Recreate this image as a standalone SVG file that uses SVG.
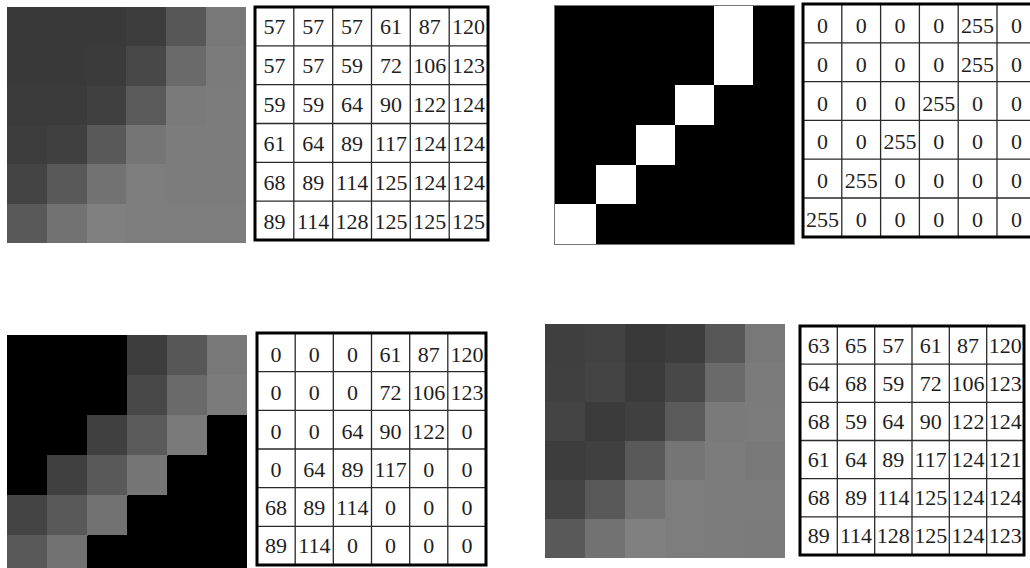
<svg xmlns="http://www.w3.org/2000/svg" width="1030" height="568" viewBox="0 0 1030 568">
<style>
.g{stroke:#2a2a2a;stroke-width:1.3;fill:none}
.b{fill:none;stroke:#000;stroke-width:3}
.t{font-family:"Liberation Serif","Times New Roman",serif;font-size:22px;text-anchor:middle;fill:#1e1e1e}
.px rect{shape-rendering:crispEdges}
</style>
<rect width="1030" height="568" fill="#fff"/>

<!-- Image 1 (top-left) -->
<g id="img1" class="px" transform="translate(7,7) scale(39.83,39.33)">
<rect x="0" y="0" width="1.02" height="1.02" fill="rgb(57,57,57)"/><rect x="1" y="0" width="1.02" height="1.02" fill="rgb(57,57,57)"/><rect x="2" y="0" width="1.02" height="1.02" fill="rgb(57,57,57)"/><rect x="3" y="0" width="1.02" height="1.02" fill="rgb(61,61,61)"/><rect x="4" y="0" width="1.02" height="1.02" fill="rgb(87,87,87)"/><rect x="5" y="0" width="1" height="1.02" fill="rgb(120,120,120)"/>
<rect x="0" y="1" width="1.02" height="1.02" fill="rgb(57,57,57)"/><rect x="1" y="1" width="1.02" height="1.02" fill="rgb(57,57,57)"/><rect x="2" y="1" width="1.02" height="1.02" fill="rgb(59,59,59)"/><rect x="3" y="1" width="1.02" height="1.02" fill="rgb(72,72,72)"/><rect x="4" y="1" width="1.02" height="1.02" fill="rgb(106,106,106)"/><rect x="5" y="1" width="1" height="1.02" fill="rgb(123,123,123)"/>
<rect x="0" y="2" width="1.02" height="1.02" fill="rgb(59,59,59)"/><rect x="1" y="2" width="1.02" height="1.02" fill="rgb(59,59,59)"/><rect x="2" y="2" width="1.02" height="1.02" fill="rgb(64,64,64)"/><rect x="3" y="2" width="1.02" height="1.02" fill="rgb(90,90,90)"/><rect x="4" y="2" width="1.02" height="1.02" fill="rgb(122,122,122)"/><rect x="5" y="2" width="1" height="1.02" fill="rgb(124,124,124)"/>
<rect x="0" y="3" width="1.02" height="1.02" fill="rgb(61,61,61)"/><rect x="1" y="3" width="1.02" height="1.02" fill="rgb(64,64,64)"/><rect x="2" y="3" width="1.02" height="1.02" fill="rgb(89,89,89)"/><rect x="3" y="3" width="1.02" height="1.02" fill="rgb(117,117,117)"/><rect x="4" y="3" width="1.02" height="1.02" fill="rgb(124,124,124)"/><rect x="5" y="3" width="1" height="1.02" fill="rgb(124,124,124)"/>
<rect x="0" y="4" width="1.02" height="1.02" fill="rgb(68,68,68)"/><rect x="1" y="4" width="1.02" height="1.02" fill="rgb(89,89,89)"/><rect x="2" y="4" width="1.02" height="1.02" fill="rgb(114,114,114)"/><rect x="3" y="4" width="1.02" height="1.02" fill="rgb(125,125,125)"/><rect x="4" y="4" width="1.02" height="1.02" fill="rgb(124,124,124)"/><rect x="5" y="4" width="1" height="1.02" fill="rgb(124,124,124)"/>
<rect x="0" y="5" width="1.02" height="1" fill="rgb(89,89,89)"/><rect x="1" y="5" width="1.02" height="1" fill="rgb(114,114,114)"/><rect x="2" y="5" width="1.02" height="1" fill="rgb(128,128,128)"/><rect x="3" y="5" width="1.02" height="1" fill="rgb(125,125,125)"/><rect x="4" y="5" width="1.02" height="1" fill="rgb(125,125,125)"/><rect x="5" y="5" width="1" height="1" fill="rgb(125,125,125)"/>
</g>

<!-- Matrix 1 -->
<g id="mat1">
<rect x="255" y="7" width="233" height="233" fill="#fff"/>
<path class="g" d="M293.8 7V240M332.7 7V240M371.5 7V240M410.3 7V240M449.2 7V240M255 45.8H488M255 84.7H488M255 123.5H488M255 162.3H488M255 201.2H488"/>
<rect class="b" x="255" y="7" width="233" height="233"/>
<g class="t">
<text x="274.4" y="34.4">57</text><text x="313.2" y="34.4">57</text><text x="352.1" y="34.4">57</text><text x="390.9" y="34.4">61</text><text x="429.7" y="34.4">87</text><text x="468.6" y="34.4">120</text>
<text x="274.4" y="73.2">57</text><text x="313.2" y="73.2">57</text><text x="352.1" y="73.2">59</text><text x="390.9" y="73.2">72</text><text x="429.7" y="73.2">106</text><text x="468.6" y="73.2">123</text>
<text x="274.4" y="112.1">59</text><text x="313.2" y="112.1">59</text><text x="352.1" y="112.1">64</text><text x="390.9" y="112.1">90</text><text x="429.7" y="112.1">122</text><text x="468.6" y="112.1">124</text>
<text x="274.4" y="150.9">61</text><text x="313.2" y="150.9">64</text><text x="352.1" y="150.9">89</text><text x="390.9" y="150.9">117</text><text x="429.7" y="150.9">124</text><text x="468.6" y="150.9">124</text>
<text x="274.4" y="189.7">68</text><text x="313.2" y="189.7">89</text><text x="352.1" y="189.7">114</text><text x="390.9" y="189.7">125</text><text x="429.7" y="189.7">124</text><text x="468.6" y="189.7">124</text>
<text x="274.4" y="228.6">89</text><text x="313.2" y="228.6">114</text><text x="352.1" y="228.6">128</text><text x="390.9" y="228.6">125</text><text x="429.7" y="228.6">125</text><text x="468.6" y="228.6">125</text>
</g>
</g>

<!-- Image 2 (binary) -->
<g id="img2" class="px">
<rect x="554" y="5" width="240" height="239" fill="#000" stroke="#777" stroke-width="1"/>
<rect x="714" y="5.5" width="39" height="79.5" fill="#fff"/>
<rect x="675" y="85" width="39" height="40" fill="#fff"/>
<rect x="636" y="125" width="39" height="40" fill="#fff"/>
<rect x="596" y="165" width="40" height="39" fill="#fff"/>
<rect x="554.5" y="204" width="41.5" height="39.5" fill="#fff"/>
</g>

<!-- Matrix 2 -->
<g id="mat2">
<rect x="803" y="4" width="233" height="233" fill="#fff"/>
<path class="g" d="M841.8 4V237M880.6 4V237M919.4 4V237M958.2 4V237M997 4V237M803 42.8H1036M803 81.6H1036M803 120.4H1036M803 159.2H1036M803 198H1036"/>
<rect class="b" x="803" y="4" width="233" height="233"/>
<g class="t">
<text x="822.4" y="32.9">0</text><text x="861.2" y="32.9">0</text><text x="900" y="32.9">0</text><text x="938.8" y="32.9">0</text><text x="977.6" y="32.9">255</text><text x="1016.4" y="32.9">0</text>
<text x="822.4" y="71.7">0</text><text x="861.2" y="71.7">0</text><text x="900" y="71.7">0</text><text x="938.8" y="71.7">0</text><text x="977.6" y="71.7">255</text><text x="1016.4" y="71.7">0</text>
<text x="822.4" y="110.5">0</text><text x="861.2" y="110.5">0</text><text x="900" y="110.5">0</text><text x="938.8" y="110.5">255</text><text x="977.6" y="110.5">0</text><text x="1016.4" y="110.5">0</text>
<text x="822.4" y="149.3">0</text><text x="861.2" y="149.3">0</text><text x="900" y="149.3">255</text><text x="938.8" y="149.3">0</text><text x="977.6" y="149.3">0</text><text x="1016.4" y="149.3">0</text>
<text x="822.4" y="188.1">0</text><text x="861.2" y="188.1">255</text><text x="900" y="188.1">0</text><text x="938.8" y="188.1">0</text><text x="977.6" y="188.1">0</text><text x="1016.4" y="188.1">0</text>
<text x="822.4" y="226.9">255</text><text x="861.2" y="226.9">0</text><text x="900" y="226.9">0</text><text x="938.8" y="226.9">0</text><text x="977.6" y="226.9">0</text><text x="1016.4" y="226.9">0</text>
</g>
</g>

<!-- Image 3 (bottom-left, masked) -->
<g id="img3" class="px" transform="translate(7,335) scale(40,40)">
<rect x="0" y="0" width="6" height="6" fill="#000"/>
<rect x="3" y="0" width="1.02" height="1.02" fill="rgb(61,61,61)"/><rect x="4" y="0" width="1.02" height="1.02" fill="rgb(87,87,87)"/><rect x="5" y="0" width="1" height="1.02" fill="rgb(120,120,120)"/>
<rect x="3" y="1" width="1.02" height="1.02" fill="rgb(72,72,72)"/><rect x="4" y="1" width="1.02" height="1.02" fill="rgb(106,106,106)"/><rect x="5" y="1" width="1" height="1" fill="rgb(123,123,123)"/>
<rect x="2" y="2" width="1.02" height="1.02" fill="rgb(64,64,64)"/><rect x="3" y="2" width="1.02" height="1.02" fill="rgb(90,90,90)"/><rect x="4" y="2" width="1" height="1" fill="rgb(122,122,122)"/>
<rect x="1" y="3" width="1.02" height="1.02" fill="rgb(64,64,64)"/><rect x="2" y="3" width="1.02" height="1.02" fill="rgb(89,89,89)"/><rect x="3" y="3" width="1" height="1" fill="rgb(117,117,117)"/>
<rect x="0" y="4" width="1.02" height="1.02" fill="rgb(68,68,68)"/><rect x="1" y="4" width="1.02" height="1.02" fill="rgb(89,89,89)"/><rect x="2" y="4" width="1" height="1" fill="rgb(114,114,114)"/>
<rect x="0" y="5" width="1.02" height="1" fill="rgb(89,89,89)"/><rect x="1" y="5" width="1" height="1" fill="rgb(114,114,114)"/>
</g>

<!-- Matrix 3 -->
<g id="mat3">
<rect x="257" y="333" width="229" height="232" fill="#fff"/>
<path class="g" d="M295.2 333V565M333.3 333V565M371.5 333V565M409.7 333V565M447.8 333V565M257 371.7H486M257 410.3H486M257 449H486M257 487.7H486M257 526.3H486"/>
<rect class="b" x="257" y="333" width="229" height="232"/>
<g class="t">
<text x="276.1" y="362">0</text><text x="314.3" y="362">0</text><text x="352.4" y="362">0</text><text x="390.6" y="362">61</text><text x="428.8" y="362">87</text><text x="466.9" y="362">120</text>
<text x="276.1" y="400">0</text><text x="314.3" y="400">0</text><text x="352.4" y="400">0</text><text x="390.6" y="400">72</text><text x="428.8" y="400">106</text><text x="466.9" y="400">123</text>
<text x="276.1" y="438.5">0</text><text x="314.3" y="438.5">0</text><text x="352.4" y="438.5">64</text><text x="390.6" y="438.5">90</text><text x="428.8" y="438.5">122</text><text x="466.9" y="438.5">0</text>
<text x="276.1" y="477">0</text><text x="314.3" y="477">64</text><text x="352.4" y="477">89</text><text x="390.6" y="477">117</text><text x="428.8" y="477">0</text><text x="466.9" y="477">0</text>
<text x="276.1" y="515">68</text><text x="314.3" y="515">89</text><text x="352.4" y="515">114</text><text x="390.6" y="515">0</text><text x="428.8" y="515">0</text><text x="466.9" y="515">0</text>
<text x="276.1" y="553">89</text><text x="314.3" y="553">114</text><text x="352.4" y="553">0</text><text x="390.6" y="553">0</text><text x="428.8" y="553">0</text><text x="466.9" y="553">0</text>
</g>
</g>

<!-- Image 4 (bottom-right) -->
<g id="img4" class="px" transform="translate(545,324) scale(40,39)">
<rect x="0" y="0" width="1.02" height="1.02" fill="rgb(63,63,63)"/><rect x="1" y="0" width="1.02" height="1.02" fill="rgb(65,65,65)"/><rect x="2" y="0" width="1.02" height="1.02" fill="rgb(57,57,57)"/><rect x="3" y="0" width="1.02" height="1.02" fill="rgb(61,61,61)"/><rect x="4" y="0" width="1.02" height="1.02" fill="rgb(87,87,87)"/><rect x="5" y="0" width="1" height="1.02" fill="rgb(120,120,120)"/>
<rect x="0" y="1" width="1.02" height="1.02" fill="rgb(64,64,64)"/><rect x="1" y="1" width="1.02" height="1.02" fill="rgb(68,68,68)"/><rect x="2" y="1" width="1.02" height="1.02" fill="rgb(59,59,59)"/><rect x="3" y="1" width="1.02" height="1.02" fill="rgb(72,72,72)"/><rect x="4" y="1" width="1.02" height="1.02" fill="rgb(106,106,106)"/><rect x="5" y="1" width="1" height="1.02" fill="rgb(123,123,123)"/>
<rect x="0" y="2" width="1.02" height="1.02" fill="rgb(68,68,68)"/><rect x="1" y="2" width="1.02" height="1.02" fill="rgb(59,59,59)"/><rect x="2" y="2" width="1.02" height="1.02" fill="rgb(64,64,64)"/><rect x="3" y="2" width="1.02" height="1.02" fill="rgb(90,90,90)"/><rect x="4" y="2" width="1.02" height="1.02" fill="rgb(122,122,122)"/><rect x="5" y="2" width="1" height="1.02" fill="rgb(124,124,124)"/>
<rect x="0" y="3" width="1.02" height="1.02" fill="rgb(61,61,61)"/><rect x="1" y="3" width="1.02" height="1.02" fill="rgb(64,64,64)"/><rect x="2" y="3" width="1.02" height="1.02" fill="rgb(89,89,89)"/><rect x="3" y="3" width="1.02" height="1.02" fill="rgb(117,117,117)"/><rect x="4" y="3" width="1.02" height="1.02" fill="rgb(124,124,124)"/><rect x="5" y="3" width="1" height="1.02" fill="rgb(121,121,121)"/>
<rect x="0" y="4" width="1.02" height="1.02" fill="rgb(68,68,68)"/><rect x="1" y="4" width="1.02" height="1.02" fill="rgb(89,89,89)"/><rect x="2" y="4" width="1.02" height="1.02" fill="rgb(114,114,114)"/><rect x="3" y="4" width="1.02" height="1.02" fill="rgb(125,125,125)"/><rect x="4" y="4" width="1.02" height="1.02" fill="rgb(124,124,124)"/><rect x="5" y="4" width="1" height="1.02" fill="rgb(124,124,124)"/>
<rect x="0" y="5" width="1.02" height="1" fill="rgb(89,89,89)"/><rect x="1" y="5" width="1.02" height="1" fill="rgb(114,114,114)"/><rect x="2" y="5" width="1.02" height="1" fill="rgb(128,128,128)"/><rect x="3" y="5" width="1.02" height="1" fill="rgb(125,125,125)"/><rect x="4" y="5" width="1.02" height="1" fill="rgb(124,124,124)"/><rect x="5" y="5" width="1" height="1" fill="rgb(123,123,123)"/>
</g>

<!-- Matrix 4 -->
<g id="mat4">
<rect x="800" y="326" width="224" height="229" fill="#fff"/>
<path class="g" d="M837.3 326V555M874.7 326V555M912 326V555M949.3 326V555M986.7 326V555M800 364.2H1024M800 402.3H1024M800 440.5H1024M800 478.7H1024M800 516.8H1024"/>
<rect class="b" x="800" y="326" width="224" height="229"/>
<g class="t">
<text x="818.7" y="352.6">63</text><text x="856" y="352.6">65</text><text x="893.3" y="352.6">57</text><text x="930.7" y="352.6">61</text><text x="968" y="352.6">87</text><text x="1005.3" y="352.6">120</text>
<text x="818.7" y="390.7">64</text><text x="856" y="390.7">68</text><text x="893.3" y="390.7">59</text><text x="930.7" y="390.7">72</text><text x="968" y="390.7">106</text><text x="1005.3" y="390.7">123</text>
<text x="818.7" y="428.9">68</text><text x="856" y="428.9">59</text><text x="893.3" y="428.9">64</text><text x="930.7" y="428.9">90</text><text x="968" y="428.9">122</text><text x="1005.3" y="428.9">124</text>
<text x="818.7" y="467.1">61</text><text x="856" y="467.1">64</text><text x="893.3" y="467.1">89</text><text x="930.7" y="467.1">117</text><text x="968" y="467.1">124</text><text x="1005.3" y="467.1">121</text>
<text x="818.7" y="505.2">68</text><text x="856" y="505.2">89</text><text x="893.3" y="505.2">114</text><text x="930.7" y="505.2">125</text><text x="968" y="505.2">124</text><text x="1005.3" y="505.2">124</text>
<text x="818.7" y="543.4">89</text><text x="856" y="543.4">114</text><text x="893.3" y="543.4">128</text><text x="930.7" y="543.4">125</text><text x="968" y="543.4">124</text><text x="1005.3" y="543.4">123</text>
</g>
</g>
</svg>
